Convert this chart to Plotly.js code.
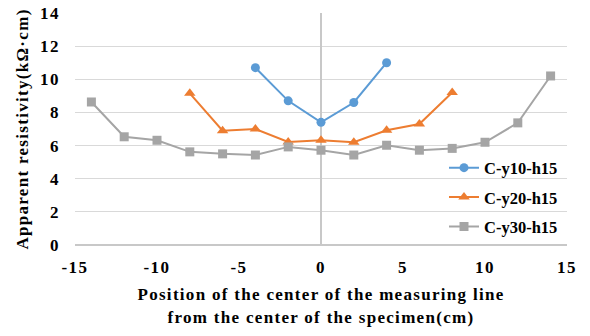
<!DOCTYPE html>
<html><head><meta charset="utf-8">
<script src="https://cdn.plot.ly/plotly-3.0.1.min.js"></script>
<style>
html,body{margin:0;padding:0;background:#fff}#c{width:590px;height:336px}
#c .xtick text, #c .ytick text {letter-spacing: 1.5px;}
#c .g-xtitle text, #c .g-ytitle text {letter-spacing: 1.3px;}
</style>
</head><body><div id="c"></div>
<script>
const x1 = [-4, -2, 0, 2, 4];
const y1 = [10.7, 8.7, 7.4, 8.6, 11.0];
const x2 = [-8, -6, -4, -2, 0, 2, 4, 6, 8];
const y2 = [9.15, 6.9, 7.0, 6.22, 6.32, 6.2, 6.92, 7.3, 9.2];
const x3 = [-14, -12, -10, -8, -6, -4, -2, 0, 2, 4, 6, 8, 10, 12, 14];
const y3 = [8.63, 6.53, 6.32, 5.62, 5.5, 5.43, 5.92, 5.72, 5.43, 6.02, 5.72, 5.83, 6.2, 7.37, 10.2];
const names = ["C-y10-h15", "C-y20-h15", "C-y30-h15"];
const xTicks = [-15, -10, -5, 0, 5, 10, 15];
const xTickText = ["-15", "-10", "-5", "0", "5", "10", "15"];
const yTicks = [0, 2, 4, 6, 8, 10, 12, 14];
const font = "'Liberation Serif', 'Times New Roman', serif";
const traces = [
  {x: x1, y: y1, name: "<b>" + names[0] + "</b>", legendgroup: "a", mode: "lines+markers", line: {color: "#5b9bd5", width: 2}, marker: {symbol: "circle", size: 9, color: "#5b9bd5"}},
  {x: x2, y: y2, name: "<b>" + names[1] + "</b>", legendgroup: "b", mode: "lines+markers", line: {color: "#ed7d31", width: 2}, marker: {symbol: "triangle-up", size: 10, color: "#ed7d31"}},
  {x: x3, y: y3, name: "<b>" + names[2] + "</b>", legendgroup: "c", mode: "lines+markers", line: {color: "#a5a5a5", width: 2}, marker: {symbol: "square", size: 9, color: "#a5a5a5"}}
];
const layout = {
  width: 590, height: 336,
  margin: {l: 75, r: 23, t: 13, b: 91},
  paper_bgcolor: "#fff", plot_bgcolor: "#fff",
  font: {family: font, size: 16, color: "#000"},
  showlegend: true,
  legend: {x: 0.75, y: 0.205, xanchor: "left", yanchor: "middle", font: {family: font, size: 16.5, color: "#000"}, tracegroupgap: 5, itemwidth: 30, bgcolor: "rgba(0,0,0,0)"},
  xaxis: {
    range: [-15, 15], tickmode: "array", tickvals: xTicks, ticktext: xTickText.map(t => "<b>" + t + "</b>"),
    showgrid: false,
    zeroline: true, zerolinecolor: "#c8c8c8", zerolinewidth: 1.5,
    showline: false, ticks: "", ticklabelstandoff: 10,
    tickfont: {family: font, size: 17, color: "#000"},
    title: {text: "<b>Position of the center of the measuring line<br>from the center of the specimen(cm)</b>", font: {family: font, size: 17, color: "#000"}, standoff: 12}
  },
  yaxis: {
    range: [0, 14], tickmode: "array", tickvals: yTicks, ticktext: yTicks.map(t => "<b>" + t + "</b>"),
    showgrid: true, gridcolor: "#d9d9d9", gridwidth: 1,
    zeroline: true, zerolinecolor: "#c8c8c8", zerolinewidth: 1.5, ticks: "", ticklabelstandoff: 14,
    tickfont: {family: font, size: 17, color: "#000"},
    title: {text: "<b>Apparent resistivity(kΩ·cm)</b>", font: {family: font, size: 17, color: "#000"}, standoff: 10}
  }
};
Plotly.newPlot("c", traces, layout, {displayModeBar: false, staticPlot: true});
</script></body></html>
